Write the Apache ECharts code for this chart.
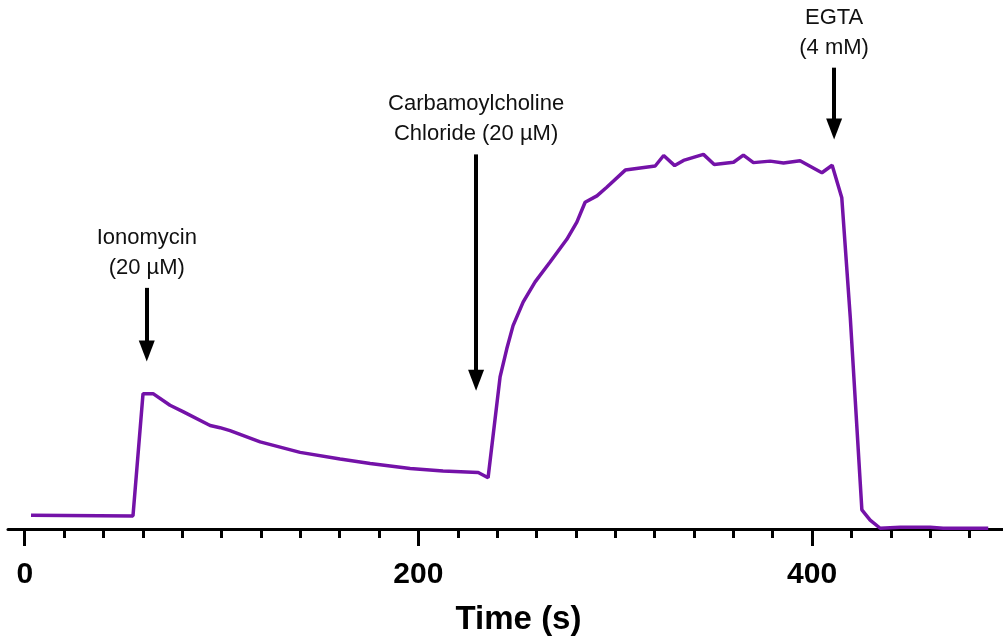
<!DOCTYPE html>
<html lang="en">
  <head>
    <meta charset="UTF-8" />
    <title>Calcium trace</title>
    <script src="https://cdn.jsdelivr.net/npm/echarts@6.0.0/dist/echarts.min.js"></script>
  </head>
  <body style="margin: 0">
    <div id="main" style="width: 1003px; height: 641px"></div>
    <script type="text/javascript">
      // time (s) and relative signal
      const time = [
        3.2, 55.0, 60.1, 65.2, 73.8, 80.4, 94.2, 99.2, 104.3, 119.6, 139.9,
        160.2, 175.5, 195.8, 212.5, 230.4, 235.4, 241.5, 244.9, 248.1, 253.2,
        259.3, 266.9, 275.4, 280.5, 284.7, 290.7, 295.7, 305.1, 320.3, 324.6,
        330.2, 334.7, 344.8, 350.3, 360.1, 365.1, 370.2, 378.7, 385.5, 393.9,
        405.0, 410.2, 415.1, 419.4, 425.3, 429.5, 434.6, 444.8, 460.0, 466.6,
        489.5,
      ];
      const signal = [
        3.7, 3.5, 36.2, 36.2, 33.1, 31.4, 27.7, 27.1, 26.3, 23.3, 20.5, 18.7,
        17.5, 16.2, 15.5, 15.1, 13.7, 40.7, 48.2, 54.4, 60.7, 66.1, 71.4, 77.5,
        82.1, 87.4, 89.1, 91.4, 96.0, 97.1, 99.9, 97.2, 98.6, 100.2, 97.5, 98.1,
        100.0, 98.0, 98.4, 97.9, 98.5, 95.3, 97.3, 88.6, 56.7, 5.1, 2.4, 0.2,
        0.45, 0.45, 0.2, 0.2,
      ];

      // additions
      const arrowLabels = [
        "Ionomycin\n(20 µM)",
        "Carbamoylcholine\nChloride (20 µM)",
        "EGTA\n(4 mM)",
      ];
      const arrowX = [62.0, 229.3, 411.2];
      const arrowTop = [64.5, 100.2, 123.4];
      const arrowTip = [47.6, 39.8, 107.0];

      const majorTicks = [0, 200, 400];
      const minorTicks = [
        20, 40, 60, 80, 100, 120, 140, 160, 180, 220, 240, 260, 280, 300, 320,
        340, 360, 380, 420, 440, 460, 480,
      ];

      const font = "Liberation Sans, Arial, sans-serif";
      let myChart = echarts.init(document.getElementById("main"));

      const markData = arrowX.map((x, i) => [
        {
          coord: [x, arrowTop[i]],
          label: { formatter: arrowLabels[i] },
        },
        { coord: [x, arrowTip[i]] },
      ]);

      let options = {
        animation: false,
        grid: { left: 8, right: 0, top: 0, bottom: 110.3 },
        xAxis: [
          {
            type: "value",
            min: -8.5,
            max: 497,
            position: "bottom",
            splitLine: { show: false },
            axisLine: { lineStyle: { color: "#000", width: 3 } },
            axisTick: {
              customValues: minorTicks,
              length: 9,
              lineStyle: { color: "#000", width: 3 },
            },
            axisLabel: {
              customValues: majorTicks,
              margin: 31,
              color: "#000",
              fontSize: 30,
              fontWeight: "bold",
              fontFamily: font,
            },
          },
          {
            type: "value",
            min: -8.5,
            max: 497,
            position: "bottom",
            splitLine: { show: false },
            axisLine: { show: false },
            axisTick: {
              customValues: majorTicks,
              length: 17,
              lineStyle: { color: "#000", width: 3 },
            },
            axisLabel: { show: false },
            name: "Time (s)",
            nameLocation: "middle",
            nameGap: 74,
            nameTextStyle: {
              color: "#000",
              fontSize: 33,
              fontWeight: "bold",
              fontFamily: font,
              padding: [0, 0, 0, 26],
            },
          },
        ],
        yAxis: {
          type: "value",
          min: 0,
          max: 141.5,
          show: false,
        },
        series: [
          {
            name: "signal",
            type: "line",
            data: time.map((t, i) => [t, signal[i]]),
            symbol: "none",
            lineStyle: { color: "#7412a8", width: 3.5 },
            markLine: {
              silent: true,
              animation: false,
              symbol: ["none", "triangle"],
              symbolSize: [16, 21],
              lineStyle: { color: "#000", width: 4, type: "solid" },
              label: {
                show: true,
                position: "start",
                distance: 5,
                color: "#111",
                fontSize: 22,
                lineHeight: 30,
                fontFamily: font,
              },
              data: markData,
            },
          },
        ],
      };

      myChart.setOption(options);
    </script>
  </body>
</html>
